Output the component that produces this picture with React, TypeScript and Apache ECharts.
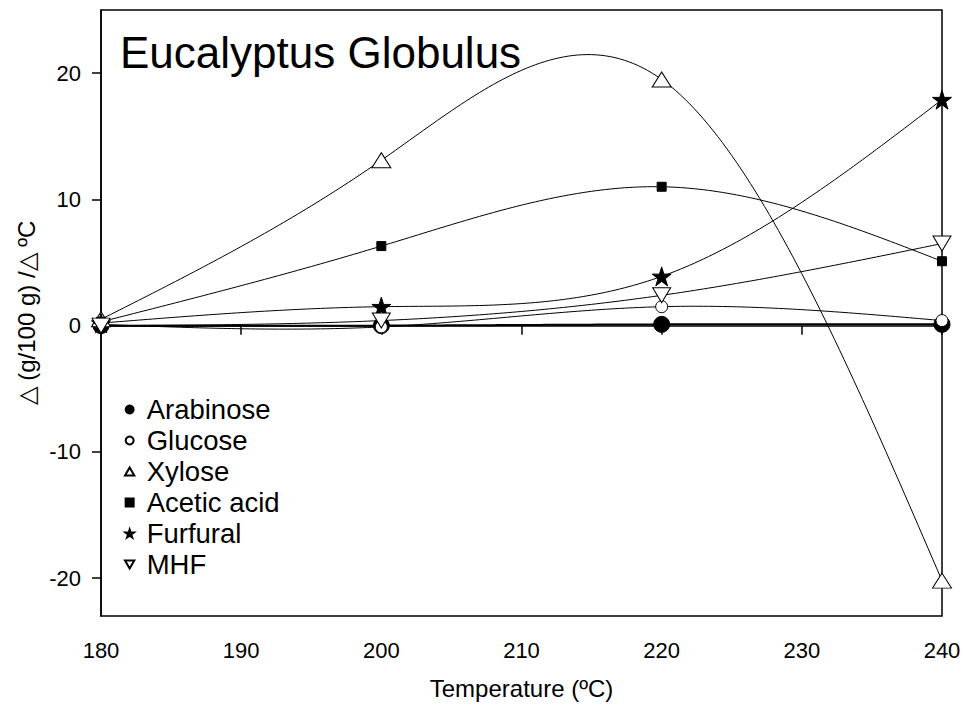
import React, { useEffect, useRef } from "react";
import * as echarts from "echarts";

const temps = [180, 200, 220, 240];
const arabinose = [0.0, 0.0, 0.1, 0.1];
const glucose = [0.1, -0.1, 1.5, 0.4];
const xylose = [0.5, 13.1, 19.5, -20.2];
const aceticAcid = [0.3, 6.3, 11.0, 5.1];
const furfural = [0.2, 1.5, 3.9, 17.9];
const mhf = [0.0, 0.4, 2.4, 6.5];

const seriesNames = ["Arabinose", "Glucose", "Xylose", "Acetic acid", "Furfural", "MHF"];
const yTicks = [-20, -10, 0, 10, 20];

const STAR = "path://M50,0 L61.2,34.5 L97.6,34.5 L68.2,55.9 L79.4,90.5 L50,69.1 L20.6,90.5 L31.8,55.9 L2.4,34.5 L38.8,34.5 Z";
const DOWN_TRI = "path://M0,0 L100,0 L50,86 Z";
const UP_TRI = "path://M50,0 L100,86 L0,86 Z";
const SQUARE = "path://M0,0 L10,0 L10,10 L0,10 Z";
const FONT = "'Liberation Sans', Arial, sans-serif";

const pairs = (ys: number[]) => temps.map((t, i) => [t, ys[i]]);

// natural cubic spline second derivatives
function splineM(xs: number[], ys: number[]) {
  const n = xs.length;
  const M = new Array(n).fill(0);
  if (n < 3) return M;
  const a: number[] = [], b: number[] = [], c: number[] = [], d: number[] = [];
  for (let i = 1; i < n - 1; i++) {
    const h0 = xs[i] - xs[i - 1];
    const h1 = xs[i + 1] - xs[i];
    a.push(h0);
    b.push(2 * (h0 + h1));
    c.push(h1);
    d.push(6 * ((ys[i + 1] - ys[i]) / h1 - (ys[i] - ys[i - 1]) / h0));
  }
  const m = b.length;
  for (let i = 1; i < m; i++) {
    const w = a[i] / b[i - 1];
    b[i] -= w * c[i - 1];
    d[i] -= w * d[i - 1];
  }
  const sol = new Array(m).fill(0);
  sol[m - 1] = d[m - 1] / b[m - 1];
  for (let i = m - 2; i >= 0; i--) sol[i] = (d[i] - c[i] * sol[i + 1]) / b[i];
  for (let i = 0; i < m; i++) M[i + 1] = sol[i];
  return M;
}

function curveSeries(ys: number[], lw: number, z: number) {
  const M = splineM(temps, ys);
  return {
    type: "custom",
    data: pairs(ys),
    z,
    silent: true,
    clip: false,
    renderItem: (params: any, api: any) => {
      const i = params.dataIndex;
      if (i >= temps.length - 1) return { type: "group", children: [] };
      const x0 = temps[i], x1 = temps[i + 1], h = x1 - x0;
      const pts: number[][] = [];
      const N = 60;
      for (let k = 0; k <= N; k++) {
        const x = x0 + (h * k) / N;
        const A = (x1 - x) / h, B = (x - x0) / h;
        const y =
          A * ys[i] + B * ys[i + 1] +
          ((A * A * A - A) * M[i] + (B * B * B - B) * M[i + 1]) * (h * h) / 6;
        pts.push(api.coord([x, y]));
      }
      return {
        type: "polyline",
        shape: { points: pts },
        style: { stroke: "#000", lineWidth: lw, fill: null },
      };
    },
  };
}

export default function App() {
  const ref = useRef<HTMLDivElement>(null);
  useEffect(() => {
    if (!ref.current) return;
    const chart = echarts.init(ref.current, undefined, { renderer: "svg" });
    const marks = (name: string, ys: number[], symbol: string, size: any, filled: boolean, z: number) => ({
      name,
      type: "line",
      data: pairs(ys),
      symbol,
      symbolSize: size,
      showSymbol: true,
      clip: false,
      z,
      lineStyle: { color: "#000", width: 0, opacity: 0 },
      itemStyle: { color: filled ? "#000" : "#fff", borderColor: "#000", borderWidth: 1, opacity: 1 },
      emphasis: { disabled: true },
    });
    chart.setOption({
      animation: false,
      backgroundColor: "#fff",
      textStyle: { fontFamily: FONT },
      title: {
        text: "Eucalyptus Globulus",
        left: 120,
        top: 30,
        padding: 0,
        textStyle: { fontSize: 44, fontWeight: "normal", color: "#000", fontFamily: FONT },
      },
      grid: {
        left: 101,
        right: 22,
        top: 10,
        bottom: 95,
        show: true,
        borderColor: "#000",
        borderWidth: 1.5,
        backgroundColor: "transparent",
      },
      legend: {
        orient: "vertical",
        left: 124,
        top: 394,
        padding: 0,
        itemGap: 0,
        itemWidth: 24,
        itemHeight: 8,
        selectedMode: false,
        textStyle: { fontSize: 27.5, color: "#000", lineHeight: 31, fontFamily: FONT },
        data: [
          { name: seriesNames[0], icon: "circle" },
          { name: seriesNames[1], icon: "circle" },
          { name: seriesNames[2], icon: UP_TRI },
          { name: seriesNames[3], icon: SQUARE },
          { name: seriesNames[4], icon: STAR },
          { name: seriesNames[5], icon: DOWN_TRI },
        ],
      },
      xAxis: {
        type: "value",
        min: 180,
        max: 240,
        interval: 10,
        name: "Temperature (ºC)",
        nameLocation: "middle",
        nameGap: 60,
        nameTextStyle: { fontSize: 24, color: "#000", fontFamily: FONT },
        axisLine: { show: true, lineStyle: { color: "#000", width: 1.5 } },
        axisTick: { show: true, inside: false, length: 9, lineStyle: { color: "#000", width: 1.5 } },
        axisLabel: { fontSize: 22, color: "#000", margin: 23, fontFamily: FONT },
        splitLine: { show: false },
      },
      yAxis: {
        type: "value",
        min: -23,
        max: 25,
        name: "△ (g/100 g) /△ ºC",
        nameLocation: "middle",
        nameGap: 62,
        nameTextStyle: { fontSize: 24, color: "#000", fontFamily: FONT },
        axisLine: { show: true, lineStyle: { color: "#000", width: 1.5 } },
        axisTick: { show: true, inside: false, length: 9, customValues: yTicks, lineStyle: { color: "#000", width: 1.5 } },
        axisLabel: { fontSize: 22, color: "#000", margin: 20, customValues: yTicks, fontFamily: FONT },
        splitLine: { show: false },
      },
      series: [
        curveSeries(arabinose, 2, 1),
        curveSeries(glucose, 1, 1),
        curveSeries(xylose, 1, 1),
        curveSeries(aceticAcid, 1, 1),
        curveSeries(furfural, 1, 1),
        curveSeries(mhf, 1, 1),
        marks(seriesNames[0], arabinose, "circle", 16, true, 2),
        marks(seriesNames[1], glucose, "circle", 12, false, 3),
        marks(seriesNames[2], xylose, "triangle", [19, 15], false, 4),
        marks(seriesNames[3], aceticAcid, "rect", 9, true, 5),
        marks(seriesNames[4], furfural, STAR, 19, true, 6),
        { ...marks(seriesNames[5], mhf, "triangle", [18, 15], false, 7), symbolRotate: 180 },
      ],
    });
    return () => chart.dispose();
  }, []);
  return <div ref={ref} style={{ position: "fixed", left: 0, top: 0, width: 964, height: 711 }} />;
}
